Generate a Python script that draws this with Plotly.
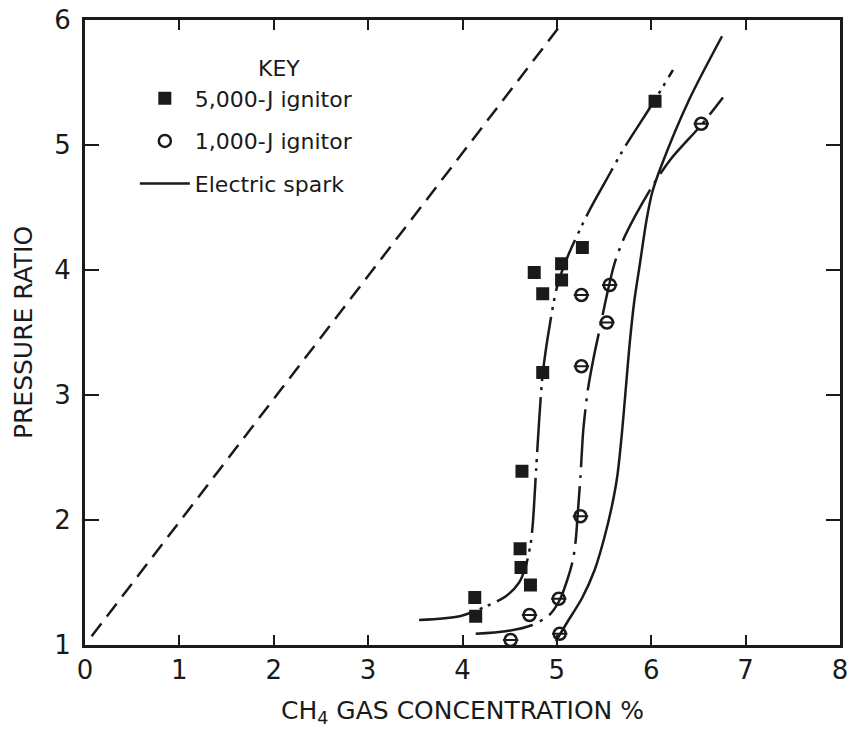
import plotly.graph_objects as go

# ---- data ----
j5000_x = [6.04, 5.27, 5.05, 4.76, 5.05, 4.85, 4.85, 4.63, 4.61, 4.62, 4.72, 4.13, 4.14]
j5000_y = [5.35, 4.18, 4.05, 3.98, 3.92, 3.81, 3.18, 2.39, 1.77, 1.62, 1.48, 1.38, 1.23]

j1000_x = [6.53, 5.56, 5.26, 5.53, 5.26, 5.25, 5.02, 4.71, 4.51, 5.03]
j1000_y = [5.17, 3.88, 3.80, 3.58, 3.23, 2.03, 1.37, 1.24, 1.04, 1.09]

# fitted curves (as drawn in the reference)
curve5000_x = [3.54, 3.97, 4.25, 4.46, 4.60, 4.67, 4.72, 4.745, 4.78, 4.81, 4.85,
               4.92, 5.00, 5.11, 5.34, 5.56, 5.70, 6.03, 6.23]
curve5000_y = [1.20, 1.23, 1.31, 1.39, 1.50, 1.63, 1.80, 1.97, 2.40, 2.77, 3.17,
               3.54, 3.86, 4.10, 4.47, 4.77, 4.96, 5.35, 5.60]

curve1000_x = [4.14, 4.46, 4.74, 4.92, 5.03, 5.11, 5.17, 5.20, 5.22, 5.25, 5.28,
               5.33, 5.39, 5.46, 5.53, 5.61, 5.72, 6.01, 6.21, 6.53, 6.76]
curve1000_y = [1.09, 1.11, 1.16, 1.24, 1.36, 1.52, 1.68, 1.84, 2.04, 2.35, 2.72,
               3.05, 3.30, 3.55, 3.80, 4.05, 4.27, 4.67, 4.89, 5.16, 5.38]

spark_x = [4.99, 5.10, 5.27, 5.40, 5.50, 5.58, 5.64, 5.69, 5.73, 5.77, 5.82, 5.88,
           5.95, 6.01, 6.10, 6.40, 6.75]
spark_y = [1.03, 1.17, 1.38, 1.60, 1.85, 2.10, 2.35, 2.70, 3.05, 3.40, 3.75, 4.05,
           4.40, 4.62, 4.82, 5.36, 5.87]

dashed_x = [0.07, 5.03]
dashed_y = [1.07, 5.95]

x_ticks = [0, 1, 2, 3, 4, 5, 6, 7, 8]
y_ticks = [1, 2, 3, 4, 5, 6]

INK = "#1a1a1a"
FONT = "DejaVu Sans"

fig = go.Figure()

fig.add_trace(go.Scatter(x=dashed_x, y=dashed_y, mode="lines", showlegend=False,
                         line=dict(color=INK, width=2.5, dash="16px,9px")))
fig.add_trace(go.Scatter(x=curve5000_x, y=curve5000_y, mode="lines", showlegend=False,
                         line=dict(color=INK, width=2.5, shape="spline", smoothing=0.8,
                                   dash="55px,7px,3px,6px,3px,7px")))
fig.add_trace(go.Scatter(x=curve1000_x, y=curve1000_y, mode="lines", showlegend=False,
                         line=dict(color=INK, width=2.5, shape="spline", smoothing=0.8,
                                   dash="58px,8px,3px,8px")))

fig.add_trace(go.Scatter(x=j5000_x, y=j5000_y, mode="markers", name="5,000-J ignitor",
                         legendgroup="a", legendrank=1,
                         marker=dict(symbol="square", size=13, color=INK),
                         cliponaxis=False))
fig.add_trace(go.Scatter(x=j1000_x, y=j1000_y, mode="markers", name="1,000-J ignitor",
                         legendgroup="b", legendrank=2,
                         marker=dict(symbol="circle-open", size=12, color=INK,
                                     line=dict(width=2.5, color=INK)),
                         cliponaxis=False))
fig.add_trace(go.Scatter(x=j1000_x, y=j1000_y, mode="markers", showlegend=False,
                         legendgroup="b",
                         marker=dict(symbol="line-ew-open", size=11, color=INK,
                                     line=dict(width=2, color=INK)),
                         cliponaxis=False))
fig.add_trace(go.Scatter(x=spark_x, y=spark_y, mode="lines", name="Electric spark",
                         legendgroup="c", legendrank=3,
                         line=dict(color=INK, width=2.5, shape="spline", smoothing=0.8)))

axis_common = dict(
    showline=True, linewidth=3, linecolor=INK, mirror="ticks",
    ticks="inside", tickwidth=2, tickcolor=INK, showgrid=False, zeroline=False,
    tickfont=dict(family=FONT, size=26, color=INK), automargin=False,
    ticklabeloverflow="allow",
)

fig.update_xaxes(range=[0, 8], tickvals=x_ticks, ticklen=10,
                 title=dict(text="CH<sub>4</sub> GAS CONCENTRATION %",
                            font=dict(family=FONT, size=25, color=INK), standoff=18),
                 **axis_common)
fig.update_yaxes(range=[1, 6], tickvals=y_ticks, ticklen=14, ticklabelstandoff=6,
                 title=dict(text="PRESSURE RATIO",
                            font=dict(family=FONT, size=25, color=INK), standoff=15),
                 **axis_common)

fig.update_layout(
    width=847, height=729,
    margin=dict(l=85, r=7, t=20, b=84),
    paper_bgcolor="white", plot_bgcolor="white",
    showlegend=True,
    legend=dict(
        x=0.066, y=0.908, xanchor="left", yanchor="top",
        bgcolor="rgba(0,0,0,0)", borderwidth=0,
        font=dict(family=FONT, size=22, color=INK),
        traceorder="grouped", tracegroupgap=11, itemwidth=50,
    ),
    annotations=[dict(text="KEY", xref="paper", yref="paper", x=0.257, y=0.923,
                      xanchor="center", yanchor="middle", showarrow=False,
                      font=dict(family=FONT, size=22, color=INK))],
)

fig.write_html("out.html")
